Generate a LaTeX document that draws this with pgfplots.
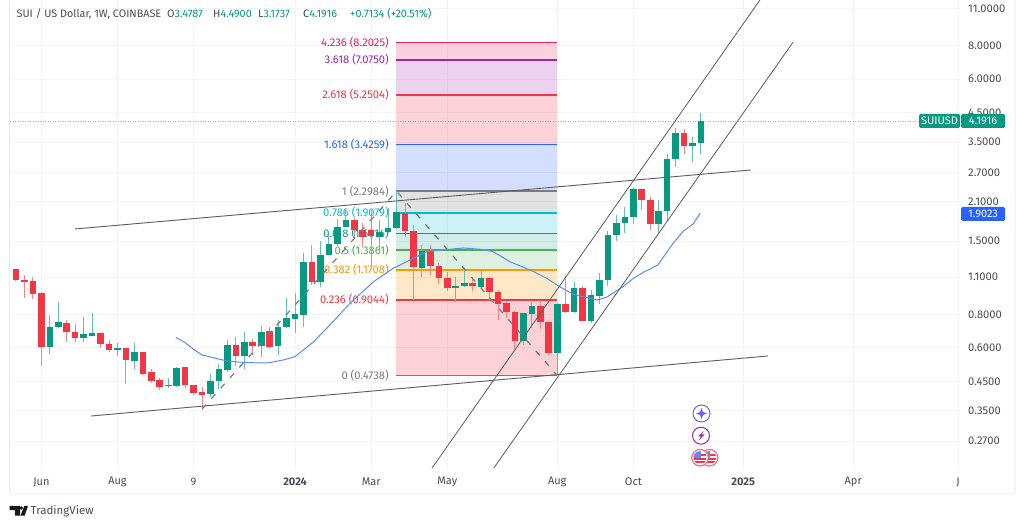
\documentclass[border=0pt]{standalone}
\usepackage{pgfplots}
\pgfplotsset{compat=1.18}
\usepackage{fontspec}
\setmainfont{Fira Sans}
\definecolor{gr}{HTML}{089981}
\definecolor{rd}{HTML}{F23645}
\definecolor{txt}{HTML}{4A4D57}
\definecolor{gridc}{HTML}{F3F4F6}
\definecolor{fgray}{HTML}{787B86}
\definecolor{forange}{HTML}{FF9800}
\definecolor{fgreen}{HTML}{4CAF50}
\definecolor{fcyan}{HTML}{00BCD4}
\definecolor{fblue}{HTML}{2962FF}
\definecolor{fpurple}{HTML}{9C27B0}
\definecolor{fpink}{HTML}{E91E63}
\definecolor{ma}{HTML}{5B8DF5}
\definecolor{trend}{HTML}{5C5C5C}
% i, body top, body bottom, high, low
\newcommand{\up}[5]{%
  \addplot[gr!62!white,line width=1pt,line cap=butt] coordinates {(#1,#4)(#1,#5)};
  \addplot[gr,line width=6.6pt,line cap=butt] coordinates {(#1,#2)(#1,#3)};}
\newcommand{\dn}[5]{%
  \addplot[rd!62!white,line width=1pt,line cap=butt] coordinates {(#1,#4)(#1,#5)};
  \addplot[rd,line width=6.6pt,line cap=butt] coordinates {(#1,#2)(#1,#3)};}
\newcommand{\band}[4]{%
  \addplot[draw=none,fill=#3,fill opacity=#4] coordinates {(44.93,#1)(64,#1)(64,#2)(44.93,#2)} -- cycle;}
\newcommand{\lvl}[3]{%
  \addplot[#2,line width=1.5pt] coordinates {(44.93,#1)(64,#1)};
  \node[anchor=east,inner sep=0pt,text=#2,font=\fontsize{11.2}{12}\selectfont] at (axis cs:44.1,#1) {#3};}
\begin{document}
\begin{tikzpicture}
\path[use as bounding box,fill=white] (0,0) rectangle (1024pt,526pt);
\begin{axis}[
  at={(10pt,56pt)},anchor=south west,
  scale only axis,width=950pt,height=470pt,
  ymode=log,log basis y=10,
  xmin=-0.7095,xmax=111.63,ymin=0.2108,ymax=11.831,
  axis line style={draw=none},
  major tick length=0pt,minor tick length=0pt,
  ytick={0.27,0.35,0.45,0.6,0.8,1.1,1.5,2.1,2.7,3.5,4.5,6,8,11},
  yticklabels={0.2700,0.3500,0.4500,0.6000,0.8000,1.1000,1.5000,2.1000,2.7000,3.5000,4.5000,6.0000,8.0000,11.0000},
  yminorticks=false,
  xtick={3,12,21,33,42,51,64,73,86,99,111.4},
  xticklabels={Jun,Aug,9,\textbf{2024},Mar,May,Aug,Oct,\textbf{2025},Apr,J},
  yticklabel pos=right,
  y tick label style={anchor=west,inner sep=0pt,xshift=8pt,text=txt,font=\fontsize{11.2}{12}\selectfont},
  x tick label style={anchor=center,inner sep=0pt,yshift=-12pt,text=txt,font=\fontsize{11}{12}\selectfont},
  grid=major,major grid style={gridc,line width=0.9pt},
  clip=true,
]
% Fibonacci bands
\band{0.4738}{0.9044}{rd}{0.22}
\band{0.9044}{1.1708}{forange}{0.22}
\band{1.1708}{1.3861}{fgreen}{0.18}
\band{1.3861}{1.6014}{gr}{0.18}
\band{1.6014}{1.9079}{fcyan}{0.2}
\band{1.9079}{2.2984}{fgray}{0.22}
\band{2.2984}{3.4259}{fblue}{0.2}
\band{3.4259}{5.2504}{rd}{0.22}
\band{5.2504}{7.0750}{fpurple}{0.2}
\band{7.0750}{8.2025}{fpink}{0.2}
\lvl{0.4738}{fgray}{0 (0.4738)}
\lvl{0.9044}{rd}{0.236 (0.9044)}
\lvl{1.1708}{forange}{0.382 (1.1708)}
\lvl{1.3861}{fgreen}{0.5 (1.3861)}
\lvl{1.6014}{gr}{0.618 (1.6014)}
\lvl{1.9079}{fcyan}{0.786 (1.9079)}
\lvl{2.2984}{fgray}{1 (2.2984)}
\lvl{3.4259}{fblue}{1.618 (3.4259)}
\lvl{5.2504}{rd}{2.618 (5.2504)}
\lvl{7.0750}{fpurple}{3.618 (7.0750)}
\lvl{8.2025}{fpink}{4.236 (8.2025)}
% last price line
\addplot[gr!55!white,line width=0.6pt,dash pattern=on 0.9pt off 1.6pt] coordinates {(-0.7,4.1916)(111.6,4.1916)};
% candles
\dn{0}{1.176}{1.074}{1.176}{1.062}
\dn{1}{1.077}{1.059}{1.121}{0.923}
\dn{2}{1.065}{0.955}{1.102}{0.910}
\dn{3}{0.958}{0.604}{0.969}{0.513}
\up{4}{0.720}{0.604}{0.793}{0.571}
\up{5}{0.747}{0.716}{0.892}{0.712}
\dn{6}{0.741}{0.690}{0.762}{0.631}
\dn{7}{0.690}{0.653}{0.735}{0.633}
\up{8}{0.674}{0.653}{0.780}{0.631}
\up{9}{0.682}{0.666}{0.809}{0.666}
\dn{10}{0.680}{0.619}{0.680}{0.601}
\dn{11}{0.619}{0.589}{0.645}{0.579}
\up{12}{0.598}{0.589}{0.624}{0.561}
\dn{13}{0.599}{0.541}{0.601}{0.440}
\up{14}{0.581}{0.538}{0.624}{0.502}
\dn{15}{0.581}{0.481}{0.581}{0.474}
\dn{16}{0.487}{0.453}{0.499}{0.445}
\dn{17}{0.456}{0.431}{0.465}{0.419}
\up{18}{0.437}{0.434}{0.465}{0.426}
\up{19}{0.505}{0.434}{0.508}{0.431}
\dn{20}{0.508}{0.437}{0.508}{0.426}
\dn{21}{0.438}{0.409}{0.438}{0.402}
\dn{22}{0.411}{0.402}{0.428}{0.357}
\up{23}{0.452}{0.404}{0.478}{0.393}
\up{24}{0.502}{0.453}{0.523}{0.422}
\up{25}{0.617}{0.497}{0.645}{0.488}
\dn{26}{0.617}{0.558}{0.661}{0.515}
\up{27}{0.631}{0.558}{0.690}{0.499}
\dn{28}{0.631}{0.610}{0.648}{0.565}
\up{29}{0.688}{0.611}{0.723}{0.555}
\dn{30}{0.692}{0.606}{0.715}{0.601}
\up{31}{0.718}{0.608}{0.760}{0.565}
\up{32}{0.773}{0.718}{0.917}{0.712}
\up{33}{0.803}{0.767}{0.963}{0.682}
\up{34}{1.253}{0.795}{1.357}{0.720}
\dn{35}{1.253}{1.052}{1.450}{1.029}
\up{36}{1.330}{1.058}{1.500}{1.014}
\up{37}{1.462}{1.330}{1.579}{1.327}
\up{38}{1.686}{1.460}{1.806}{1.437}
\up{39}{1.791}{1.696}{1.968}{1.686}
\dn{40}{1.796}{1.648}{1.822}{1.535}
\dn{41}{1.648}{1.557}{1.745}{1.429}
\dn{42}{1.648}{1.565}{1.957}{1.204}
\up{43}{1.615}{1.548}{1.796}{1.370}
\up{44}{1.670}{1.615}{1.985}{1.602}
\up{45}{1.918}{1.672}{2.298}{1.657}
\dn{46}{1.910}{1.634}{2.084}{1.548}
\dn{47}{1.640}{1.198}{1.720}{0.9045}
\up{48}{1.377}{1.190}{1.450}{1.105}
\dn{49}{1.377}{1.210}{1.450}{1.120}
\dn{50}{1.213}{1.090}{1.239}{1.037}
\dn{51}{1.095}{1.000}{1.150}{0.980}
\up{52}{1.023}{1.003}{1.105}{0.887}
\up{53}{1.043}{1.023}{1.170}{1.008}
\dn{54}{1.043}{1.017}{1.080}{0.980}
\up{55}{1.095}{1.008}{1.176}{0.996}
\dn{56}{1.095}{0.966}{1.105}{0.899}
\dn{57}{0.969}{0.873}{0.985}{0.762}
\dn{58}{0.879}{0.815}{0.899}{0.773}
\dn{59}{0.818}{0.637}{0.825}{0.589}
\up{60}{0.807}{0.637}{0.811}{0.615}
\up{61}{0.859}{0.805}{0.892}{0.710}
\dn{62}{0.859}{0.748}{0.9045}{0.705}
\dn{63}{0.750}{0.573}{0.750}{0.565}
\up{64}{0.873}{0.576}{0.879}{0.4738}
\dn{65}{0.873}{0.818}{1.116}{0.807}
\up{66}{1.000}{0.818}{1.058}{0.811}
\dn{67}{1.000}{0.758}{1.016}{0.758}
\up{68}{0.942}{0.755}{0.987}{0.743}
\up{69}{1.074}{0.936}{1.136}{0.874}
\up{70}{1.579}{1.071}{1.634}{1.016}
\up{71}{1.746}{1.586}{1.875}{1.501}
\up{72}{1.843}{1.752}{2.004}{1.610}
\up{73}{2.334}{1.838}{2.354}{1.741}
\dn{74}{2.347}{2.126}{2.347}{1.953}
\dn{75}{2.132}{1.741}{2.180}{1.650}
\up{76}{1.940}{1.741}{2.132}{1.600}
\up{77}{3.030}{1.940}{3.160}{1.796}
\up{78}{3.775}{3.020}{3.940}{2.837}
\dn{79}{3.775}{3.380}{3.910}{3.160}
\up{80}{3.480}{3.390}{3.660}{2.960}
\up{81}{4.1916}{3.4787}{4.4900}{3.1737}
% moving average
\addplot[ma,line width=1pt] coordinates {
(18.9,0.657)(20,0.628)(21,0.593)(22,0.565)(23.3,0.552)(25,0.536)(26.9,0.530)(28.5,0.528)(29.8,0.528)(31.6,0.541)(33,0.557)(33.6,0.577)
(35.2,0.633)(37.1,0.730)(39.5,0.879)(42.3,1.060)(44.6,1.187)(46.6,1.275)(48.6,1.370)(50.5,1.389)(52.9,1.413)(54.9,1.397)(56.4,1.370)
(58.4,1.256)(60.8,1.170)(62.8,1.088)(64.3,1.014)(65.9,0.950)(68.7,0.905)(69.8,0.925)(71.8,1.016)(73,1.089)(74.2,1.147)(75.9,1.222)
(77.7,1.470)(78.9,1.630)(80.1,1.740)(80.9,1.9023)};
% trend lines
\addplot[trend,line width=0.9pt] coordinates {(6.98,1.663)(86.9,2.757)};
\addplot[trend,line width=0.9pt] coordinates {(8.87,0.3348)(88.9,0.560)};
\addplot[trend,line width=0.8pt] coordinates {(49.2,0.2144)(87.97,11.83)};
\addplot[trend,line width=0.8pt] coordinates {(56.5,0.2144)(91.9,8.254)};
% fib trend
\addplot[fgray,line width=1.2pt,dash pattern=on 6pt off 8pt] coordinates {(22,0.355)(45,2.2984)(64,0.4738)};
\end{axis}
\begin{scope}[x=1pt,y=-1pt,shift={(0pt,526pt)}]
% frame
\draw[draw=gridc!92!gray,line width=0.9pt,rounded corners=2pt] (9.5,0)--(9.5,494)--(1015,494)--(1015,0);
% header
\tikzset{hd/.style={anchor=base west,inner sep=0pt,font=\fontsize{10.8}{12}\selectfont}}
\node[hd,text=txt] at (16.5,18) {SUI / US Dollar, 1W, COINBASE};
\node[hd,text=txt] at (167,18) {O\textcolor{gr}{3.4787}};
\node[hd,text=txt] at (213,18) {H\textcolor{gr}{4.4900}};
\node[hd,text=txt] at (258,18) {L\textcolor{gr}{3.1737}};
\node[hd,text=txt] at (303,18) {C\textcolor{gr}{4.1916}};
\node[hd,text=gr] at (350,18) {+0.7134 (+20.51\%)};
% price tags
\fill[gr,rounded corners=1.5pt] (919,114) rectangle (960,128);
\fill[gr,rounded corners=1.5pt] (961,114) rectangle (1005,128);
\node[white,inner sep=0pt,font=\fontsize{11}{12}\selectfont] at (939.5,121) {SUIUSD};
\node[white,inner sep=0pt,font=\fontsize{11}{12}\selectfont] at (983,121) {4.1916};
\fill[fblue,rounded corners=1.5pt] (961,207) rectangle (1005,221);
\node[white,inner sep=0pt,font=\fontsize{11}{12}\selectfont] at (983,214) {1.9023};
% event icons
\definecolor{ic1}{HTML}{7B5CFF}
\draw[ic1,line width=1pt,fill=white] (701.5,413.5) circle (8.5);
\fill[ic1] (701.5,408)--(703,412)--(707,413.5)--(703,415)--(701.5,419)--(700,415)--(696,413.5)--(700,412)--cycle;
\draw[fpurple,line width=1pt,fill=white] (701,435.7) circle (8.5);
\fill[fpurple] (704,430.5)--(698,436.5)--(701,436.5)--(698.5,441)--(704.5,434.5)--(701.5,434.5)--cycle;
\foreach \cx in {709.5,700}{
  \draw[rd!70!white,line width=1.2pt,fill=white] (\cx,457.7) circle (8.3);
  \begin{scope}
    \clip (\cx,457.7) circle (6.6);
    \fill[white] (\cx-7,451) rectangle (\cx+7,465);
    \fill[rd] (\cx-7,454.5) rectangle (\cx+7,456);
    \fill[rd] (\cx-7,458) rectangle (\cx+7,459.6);
    \fill[rd] (\cx-7,461.5) rectangle (\cx+7,463);
    \fill[fblue!75!white] (\cx-7,451) rectangle (\cx+0.5,457.7);
  \end{scope}
}
% logo
\fill[black!90] (9.5,506)--(20,506)--(20,515.7)--(14.8,515.7)--(14.8,510.2)--(9.5,510.2)--cycle;
\fill[black!90] (21.3,508) circle (1.9);
\fill[black!90] (24.3,506)--(28,506)--(24.6,515.7)--(20.4,515.7)--cycle;
\node[anchor=base west,inner sep=0pt,text=txt,font=\fontsize{11.5}{13}\selectfont] at (30.5,514.5) {TradingView};
\end{scope}
\end{tikzpicture}
\end{document}
